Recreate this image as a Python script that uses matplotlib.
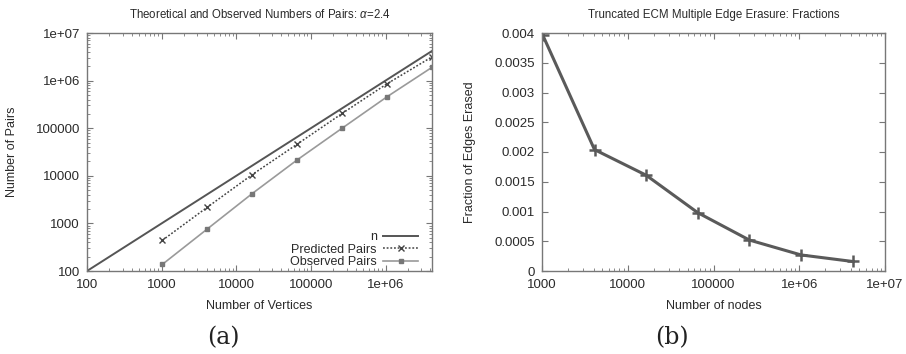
import matplotlib
matplotlib.use("Agg")
import matplotlib.pyplot as plt
from matplotlib.ticker import FixedLocator, FixedFormatter, LogLocator, NullFormatter

# ---- data ----
vertices = [1024, 4096, 16384, 65536, 262144, 1048576, 4194304]
predicted_pairs = [442, 2190, 10600, 46200, 204000, 859000, 3150000]
observed_pairs = [138, 765, 4240, 21600, 100000, 458000, 1900000]
n_line_x = [100, 4194304]

nodes = [1024, 4096, 16384, 65536, 262144, 1048576, 4194304]
fraction_erased = [0.00396, 0.00204, 0.00161, 0.00098, 0.00052, 0.00027, 0.00016]

a_xticks = [100, 1000, 10000, 100000, 1000000]
a_xticklabels = ["100", "1000", "10000", "100000", "1e+06"]
a_yticks = [100, 1000, 10000, 100000, 1000000, 10000000]
a_yticklabels = ["100", "1000", "10000", "100000", "1e+06", "1e+07"]
b_xticks = [1000, 10000, 100000, 1000000, 10000000]
b_xticklabels = ["1000", "10000", "100000", "1e+06", "1e+07"]
b_yticks = [0, 0.0005, 0.001, 0.0015, 0.002, 0.0025, 0.003, 0.0035, 0.004]
b_yticklabels = ["0", "0.0005", "0.001", "0.0015", "0.002", "0.0025", "0.003", "0.0035", "0.004"]

TXT = "#2a2a2a"
FRAME = "#777777"
plt.rcParams["font.family"] = ["Liberation Sans", "DejaVu Sans"]
plt.rcParams["mathtext.fontset"] = "custom"
plt.rcParams["mathtext.rm"] = "Liberation Sans"
plt.rcParams["mathtext.it"] = "Liberation Sans:italic"

fig = plt.figure(figsize=(9.06, 3.54), dpi=100)
# axes: left 87..432 px, right 542..885 px, top 33 px, bottom 271 px
axa = fig.add_axes([87 / 906, 1 - 271 / 354, 345 / 906, 238 / 354])
axb = fig.add_axes([542 / 906, 1 - 271 / 354, 343 / 906, 238 / 354])

def style(ax):
    for s in ax.spines.values():
        s.set_color(FRAME)
        s.set_linewidth(1.0)
    ax.tick_params(which="both", direction="in", top=True, right=True,
                   colors=FRAME, labelcolor=TXT, labelsize=9.5)
    ax.tick_params(which="major", length=4)
    ax.tick_params(which="minor", length=2)
    ax.tick_params(axis="x", which="major", pad=5.5)
    ax.tick_params(axis="y", which="major", pad=5)

# ---- (a) ----
axa.plot(n_line_x, n_line_x, color="#555555", lw=1.4, label="n")
axa.plot(vertices, predicted_pairs, color="#444444", lw=1.1, ls=(0, (1.2, 1.2)),
         marker="x", ms=4, mew=1.0, label="Predicted Pairs")
axa.plot(vertices, observed_pairs, color="#9a9a9a", lw=1.2,
         marker="s", ms=3, mfc="#777777", mec="#777777", label="Observed Pairs")
axa.set_xscale("log")
axa.set_yscale("log")
axa.set_xlim(100, 4194304)
axa.set_ylim(100, 1e7)
axa.xaxis.set_major_locator(FixedLocator(a_xticks))
axa.xaxis.set_major_formatter(FixedFormatter(a_xticklabels))
axa.yaxis.set_major_locator(FixedLocator(a_yticks))
axa.yaxis.set_major_formatter(FixedFormatter(a_yticklabels))
axa.xaxis.set_minor_locator(LogLocator(base=10, subs=range(2, 10)))
axa.yaxis.set_minor_locator(LogLocator(base=10, subs=range(2, 10)))
axa.xaxis.set_minor_formatter(NullFormatter())
axa.yaxis.set_minor_formatter(NullFormatter())
style(axa)
axa.set_xlabel("Number of Vertices", fontsize=9, color=TXT, labelpad=7)
axa.set_ylabel("Number of Pairs", fontsize=9, color=TXT, labelpad=13)
axa.set_title(r"Theoretical and Observed Numbers of Pairs: $\alpha$=2.4",
              fontsize=8.3, color=TXT, pad=11)
leg = axa.legend(loc="lower right", bbox_to_anchor=(0.985, -0.025), frameon=False,
                 markerfirst=False, fontsize=9, handlelength=2.8, handletextpad=0.5,
                 labelspacing=0.05, borderaxespad=0.3, labelcolor=TXT)

# ---- (b) ----
axb.plot(nodes, fraction_erased, color="#5a5a5a", lw=2.2, marker="+", ms=8, mew=1.8)
axb.set_xscale("log")
axb.set_xlim(1000, 1e7)
axb.set_ylim(0, 0.004)
axb.xaxis.set_major_locator(FixedLocator(b_xticks))
axb.xaxis.set_major_formatter(FixedFormatter(b_xticklabels))
axb.yaxis.set_major_locator(FixedLocator(b_yticks))
axb.yaxis.set_major_formatter(FixedFormatter(b_yticklabels))
axb.xaxis.set_minor_locator(LogLocator(base=10, subs=range(2, 10)))
axb.xaxis.set_minor_formatter(NullFormatter())
style(axb)
axb.set_xlabel("Number of nodes", fontsize=9, color=TXT, labelpad=7)
axb.set_ylabel("Fraction of Edges Erased", fontsize=9, color=TXT, labelpad=13)
axb.set_title("Truncated ECM Multiple Edge Erasure: Fractions",
              fontsize=8.3, color=TXT, pad=11)

# captions
fig.text(0.246, 0.047, "(a)", ha="center", va="center", fontsize=17,
         family=["DejaVu Serif"], color="#222222")
fig.text(0.742, 0.047, "(b)", ha="center", va="center", fontsize=17,
         family=["DejaVu Serif"], color="#222222")

fig.savefig("out.png", dpi=100)
